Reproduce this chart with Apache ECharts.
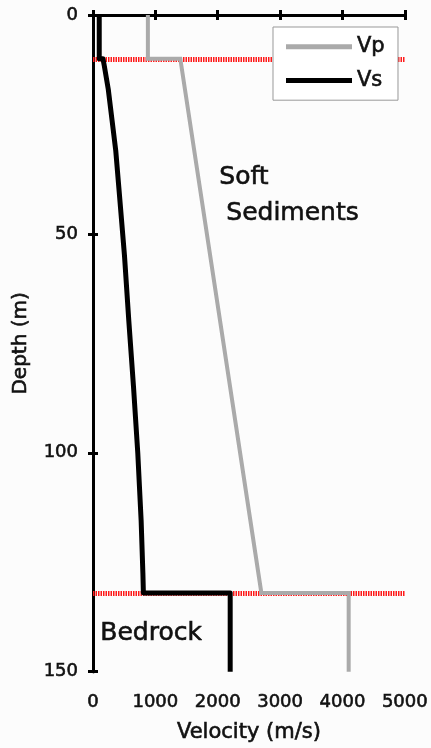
<!DOCTYPE html>
<html>
<head>
<meta charset="utf-8">
<script src="https://cdn.jsdelivr.net/npm/echarts@6/dist/echarts.min.js"></script>
<style>
html,body{margin:0;padding:0;background:#fcfcfc;}
#chart{width:431px;height:748px;}
</style>
</head>
<body>
<div id="chart"></div>
<script>
// Data: [velocity (m/s), depth (m)]
var vpData = [[880,0],[880,10],[1400,10],[2700,132],[4100,132],[4100,150]];
var vsData = [[100,0],[100,10],[160,10],[180,11.5],[245,17],[305,24],[365,31],[415,39.5],[505,55],[575,70],[650,85],[718,100],[772,115.5],[800,127.5],[808,132],[2200,132],[2200,150]];
var boundaryDepths = [10, 132];
var xTicks = [0,1000,2000,3000,4000,5000];
var yTicks = [0,50,100,150];
var seriesNames = ['Vp','Vs'];

var font = 'DejaVu Sans';
var chart = echarts.init(document.getElementById('chart'), null, {renderer:'canvas'});

var axisLineStyle = {show:true, lineStyle:{color:'#000', width:3}};
var tickStyle = {show:true, inside:false, length:5, lineStyle:{color:'#000', width:3}};
var txt = {fontFamily:font, color:'#111', textBorderColor:'#111', textBorderWidth:0.6};

var option = {
  backgroundColor:'#fcfcfc',
  animation:false,
  grid:{left:93, right:25, top:15, bottom:75},
  legend:{
    orient:'vertical',
    left:273, top:27,
    backgroundColor:'#fff',
    borderColor:'#999',
    borderWidth:1,
    padding:[9,13,9,13],
    itemGap:12,
    itemWidth:66,
    itemHeight:5,
    textStyle:Object.assign({fontSize:21}, txt),
    data:[
      {name:seriesNames[0], icon:'rect', itemStyle:{color:'#aaaaaa'}},
      {name:seriesNames[1], icon:'rect', itemStyle:{color:'#000'}}
    ]
  },
  xAxis:[{
    type:'value', position:'bottom', min:0, max:5000, interval:1000,
    name:'Velocity (m/s)', nameLocation:'middle', nameGap:50,
    nameTextStyle:Object.assign({fontSize:21}, txt),
    axisLine:axisLineStyle, axisTick:tickStyle,
    axisLabel:Object.assign({fontSize:18, margin:22, showMinLabel:true, showMaxLabel:true,
      formatter:function(v){return String(v);}}, txt),
    splitLine:{show:false}
  },{
    type:'value', position:'top', min:0, max:5000, interval:1000,
    axisLine:axisLineStyle, axisTick:tickStyle, axisLabel:{show:false}, splitLine:{show:false}
  }],
  yAxis:[{
    type:'value', position:'left', inverse:true, min:0, max:150, interval:50,
    name:'Depth (m)', nameLocation:'middle', nameGap:62,
    nameTextStyle:Object.assign({fontSize:20}, txt),
    axisLine:axisLineStyle, axisTick:tickStyle,
    axisLabel:Object.assign({fontSize:18, margin:15,
      formatter:function(v){return String(v);}}, txt),
    splitLine:{show:false}
  },{
    type:'value', position:'right', inverse:true, min:0, max:150, interval:50,
    axisLine:axisLineStyle, axisTick:tickStyle, axisLabel:{show:false}, splitLine:{show:false}
  }],
  series:[
    {
      name:'boundaries', type:'line', data:[], z:1, silent:true,
      markLine:{
        silent:true, symbol:['none','none'], z:1,
        label:{show:false},
        lineStyle:{color:'#ff1a1a', width:5, type:[1.5,1], opacity:1},
        data: boundaryDepths.map(function(d){return {yAxis:d};})
      }
    },
    {
      name:seriesNames[0], type:'line', data:vpData, showSymbol:false, symbol:'none', z:3,
      lineStyle:{color:'#aaaaaa', width:4, join:'miter'}, itemStyle:{color:'#aaaaaa'}
    },
    {
      name:seriesNames[1], type:'line', data:vsData, showSymbol:false, symbol:'none', z:4,
      lineStyle:{color:'#000', width:5, join:'round'}, itemStyle:{color:'#000'}
    }
  ],
  graphic:[
    {type:'text', left:219, top:165, z:10, style:{text:'Soft', font:'25px "DejaVu Sans"', fill:'#111', stroke:'#111', lineWidth:0.6}},
    {type:'text', left:226, top:201, z:10, style:{text:'Sediments', font:'25px "DejaVu Sans"', fill:'#111', stroke:'#111', lineWidth:0.6}},
    {type:'text', left:100, top:621, z:10, style:{text:'Bedrock', font:'25px "DejaVu Sans"', fill:'#111', stroke:'#111', lineWidth:0.6}}
  ]
};
chart.setOption(option);
</script>
</body>
</html>
